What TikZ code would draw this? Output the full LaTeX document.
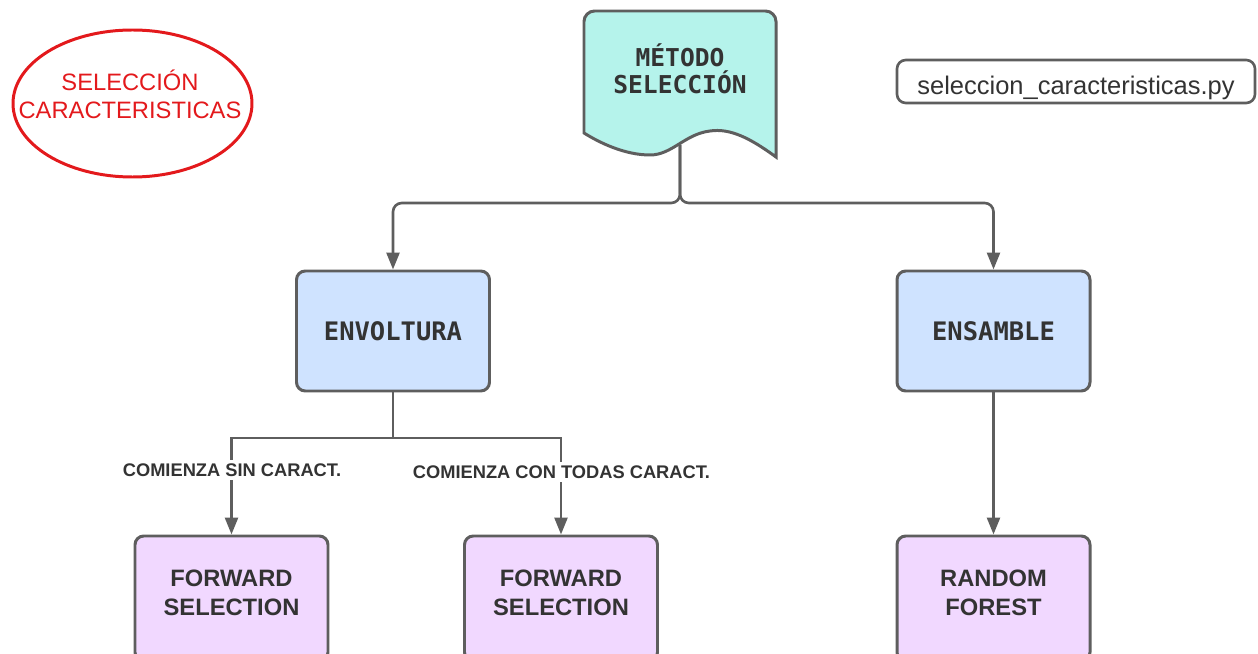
\documentclass[tikz,border=0pt]{standalone}
\usepackage{fontspec}
\setmainfont{Liberation Sans}
\newfontfamily\monofont{DejaVu Sans Mono}
\usepackage{tikz}
\usetikzlibrary{positioning,shapes.geometric,arrows.meta}

\definecolor{linegray}{HTML}{5E5E5E}
\definecolor{textgray}{HTML}{333333}
\definecolor{docfill}{HTML}{B5F3EB}
\definecolor{bluefill}{HTML}{CFE3FF}
\definecolor{purplefill}{HTML}{F1D8FF}
\definecolor{redline}{HTML}{E3191C}

\tikzset{
  methodbox/.style={draw=linegray, line width=1.7pt, rounded corners=5pt, fill=bluefill,
    minimum width=3.86cm, minimum height=2.4cm, text=textgray,
    font=\monofont\bfseries\fontsize{14.5}{17}\selectfont},
  algobox/.style={draw=linegray, line width=1.7pt, rounded corners=5pt, fill=purplefill,
    minimum width=3.86cm, minimum height=2.5cm, text=textgray, align=center,
    text depth=0.24cm, font=\bfseries\fontsize{13.5}{16.5}\selectfont},
  branchlabel/.style={fill=white, inner sep=2pt, text=textgray,
    font=\bfseries\fontsize{10.4}{12}\selectfont},
  conn/.style={draw=linegray, line width=1.5pt,
    -{Triangle[length=0.34cm,width=0.26cm]}},
}

\begin{document}
\begin{tikzpicture}
\path[use as bounding box, clip] (0,0) rectangle (25.16,-13.08);

%document shape
\draw[draw=linegray, line width=1.7pt, fill=docfill]
  (11.68,-2.66) [rounded corners=6pt]-- (11.68,-0.22) -- (15.52,-0.22) [sharp corners]-- (15.52,-3.14)
  .. controls (15.0,-2.76) and (14.6,-2.56) .. (14.2,-2.62)
  .. controls (13.7,-2.68) and (13.44,-3.1) .. (13.0,-3.1)
  .. controls (12.5,-3.1) and (12.0,-2.86) .. (11.68,-2.66) -- cycle;
\node[align=center, text=textgray, font=\monofont\bfseries\fontsize{14}{15.5}\selectfont] (metodo) at (13.6,-1.38) {MÉTODO\\SELECCIÓN};
\coordinate (docbot) at (13.6,-2.9);
\coordinate (split) at (13.6,-4.06);

%title and file
\draw[redline, line width=1.7pt] (2.65,-2.07) ellipse (2.39 and 1.47);
\node[align=center, text=redline, font=\fontsize{13.5}{16}\selectfont] (titulo) at (2.6,-1.88) {SELECCIÓN\\CARACTERISTICAS};
\node[draw=linegray, line width=1.5pt, rounded corners=5pt, minimum width=7.16cm, minimum height=0.86cm,
  inner ysep=0pt, text height=0.6cm, text depth=0.09cm,
  text=textgray, font=\fontsize{14.5}{16}\selectfont] (archivo) at (21.52,-1.63) {seleccion\_caracteristicas.py};

%methods
\node[methodbox] (envoltura) at (7.86,-6.62) {ENVOLTURA};
\node[methodbox] (ensamble) at (19.87,-6.62) {ENSAMBLE};
\coordinate (split2) at (7.86,-8.76);

%algorithms
\node[algobox] (fs1) at (4.63,-11.97) {FORWARD\\SELECTION};
\node[algobox] (fs2) at (11.22,-11.97) {FORWARD\\SELECTION};
\node[algobox] (rf) at (19.87,-11.97) {RANDOM\\FOREST};

%connectors
\draw[conn, rounded corners=5pt] (docbot) -- (split) -| (envoltura.north);
\draw[conn, rounded corners=5pt] (docbot) -- (split) -| (ensamble.north);
\draw[conn] (envoltura.south) -- (split2) -| (fs1.north);
\draw[conn] (envoltura.south) -- (split2) -| (fs2.north);
\draw[conn] (ensamble.south) -- (rf.north);

\node[branchlabel] (sin) at (4.64,-9.4) {COMIENZA SIN CARACT.};
\node[branchlabel] (con) at (11.23,-9.44) {COMIENZA CON TODAS CARACT.};

\end{tikzpicture}
\end{document}
